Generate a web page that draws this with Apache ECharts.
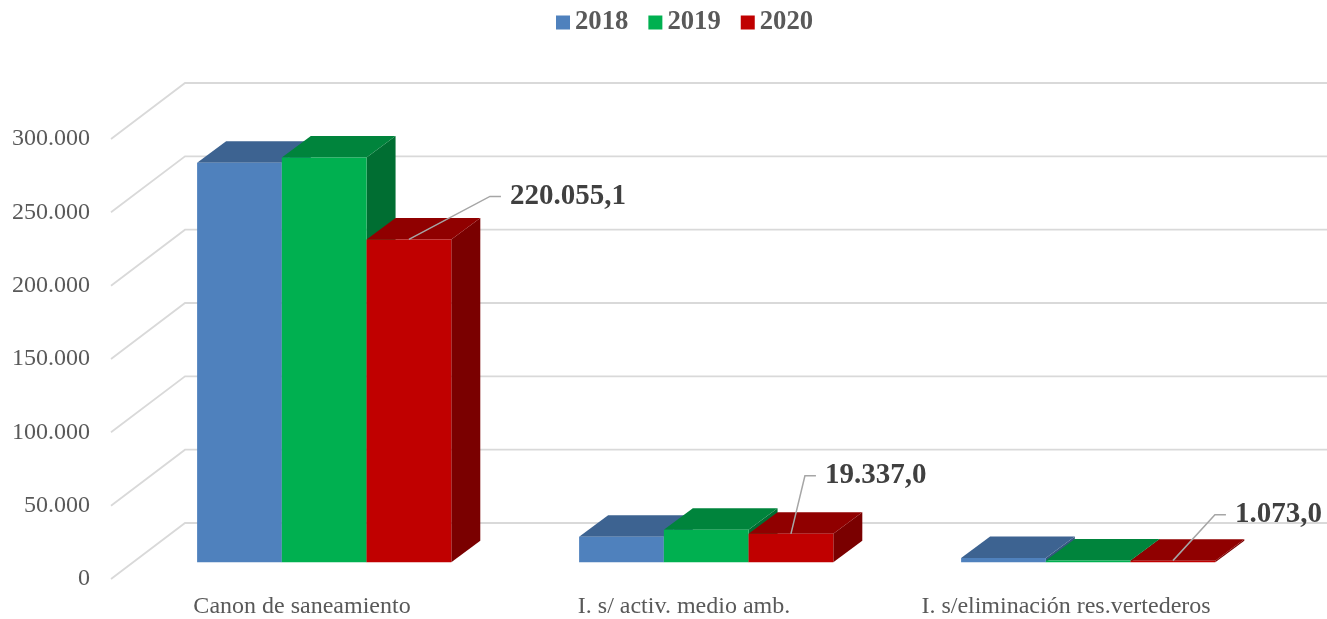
<!DOCTYPE html>
<html>
<head>
<meta charset="utf-8">
<script src="https://cdn.jsdelivr.net/npm/echarts@6/dist/echarts.min.js"></script>
<style>
  html, body { margin: 0; padding: 0; background: #fff; }
  #chart { width: 1327px; height: 619px; }
</style>
</head>
<body>
<div id="chart"></div>
<script>
var categories = ['Canon de saneamiento', 'I. s/ activ. medio amb.', 'I. s/eliminación res.vertederos'];
var years = ['2018', '2019', '2020'];
var values2018 = [272400, 17400, 2900];
var values2019 = [275900, 22100, 1150];
var values2020 = [220055.1, 19337.0, 1073.0];
var yTicks = [0, 50000, 100000, 150000, 200000, 250000, 300000];

// colours: front, top, side
var palette = [
  ['#4F81BD', '#3D6391', '#365780'],
  ['#00B050', '#00843C', '#006E32'],
  ['#C00000', '#900000', '#7A0000']
];
// leader offsets for the 2020 labels (px)
var labelOffsets = [[81, -43], [14, -58], [42, -46]];

var FONT = '"Times New Roman", "Liberation Serif", serif';
var DEPTH = [74, -56];      // full floor depth
var BAR_POS = 0.3;          // bar front face as share of depth
var BAR_DEPTH = [29, -21.5];
var BAR_RATIO = 0.2218;

function fmt(v, dec) {
  var s = v.toFixed(dec);
  var parts = s.split('.');
  var ints = parts[0].replace(/\B(?=(\d{3})+(?!\d))/g, '.');
  return parts.length > 1 ? ints + ',' + parts[1] : ints;
}

function barRenderer(si) {
  return function (params, api) {
    var cat = api.value(0);
    var val = api.value(1);
    var top = api.coord([cat, val]);
    var base = api.coord([cat, 0]);
    var band = api.size([1, 0])[0];
    var w = band * BAR_RATIO;
    var ox = DEPTH[0] * BAR_POS, oy = DEPTH[1] * BAR_POS;
    var x0 = top[0] - w * 1.5 + si * w + ox;
    var x1 = x0 + w;
    var yt = top[1] + oy;
    var yb = base[1] + oy;
    var dx = BAR_DEPTH[0], dy = BAR_DEPTH[1];
    var col = palette[si];
    var children = [
      { type: 'polygon', shape: { points: [[x1, yt], [x1, yb], [x1 + dx, yb + dy], [x1 + dx, yt + dy]] },
        style: { fill: col[2] } },
      { type: 'polygon', shape: { points: [[x0, yt], [x1, yt], [x1 + dx, yt + dy], [x0 + dx, yt + dy]] },
        style: { fill: col[1] } },
      { type: 'rect', shape: { x: x0, y: yt, width: w, height: Math.max(yb - yt, 0.8) },
        style: { fill: col[0] } }
    ];
    if (si === 2) {
      var off = labelOffsets[params.dataIndex];
      var lx = x0 + w / 2, ly = yt;
      var ex = lx + off[0], ey = ly + off[1];
      children.push({ type: 'polyline',
        shape: { points: [[lx, ly], [ex, ey], [ex + 11, ey]] },
        style: { stroke: '#A6A6A6', lineWidth: 1.5, fill: null } });
      children.push({ type: 'text',
        style: { x: ex + 20, y: ey, text: fmt(val, 1), fill: '#404040',
          font: 'bold 29px ' + FONT, textAlign: 'left', textVerticalAlign: 'middle' } });
    }
    return { type: 'group', children: children };
  };
}

function gridRenderer(params, api) {
  var y = api.coord([0, api.value(1)])[1];
  var x = params.coordSys.x;
  return { type: 'polyline',
    shape: { points: [[x, y], [x + DEPTH[0], y + DEPTH[1]], [x + DEPTH[0] + 1400, y + DEPTH[1]]] },
    style: { stroke: '#D9D9D9', lineWidth: 1.8, fill: null } };
}

var myChart = echarts.init(document.getElementById('chart'), null, { renderer: 'canvas' });
var allValues = [values2018, values2019, values2020];

var series = [{
  name: 'grid',
  type: 'custom',
  renderItem: gridRenderer,
  data: yTicks.map(function (t) { return [0, t]; }),
  silent: true,
  z: 1
}];
for (var i = 0; i < years.length; i++) {
  series.push({
    name: years[i],
    type: 'custom',
    renderItem: barRenderer(i),
    itemStyle: { color: palette[i][0] },
    data: allValues[i].map(function (v, k) { return [k, v]; }),
    z: 2 + i
  });
}

var option = {
  animation: false,
  legend: {
    data: years,
    top: 4,
    left: 551,
    icon: 'rect',
    itemWidth: 14,
    itemHeight: 14,
    itemGap: 20,
    textStyle: { fontFamily: FONT, fontSize: 26.7, fontWeight: 'bold', color: '#595959' }
  },
  grid: { left: 111, top: 139, width: 1146, height: 441, containLabel: false },
  xAxis: {
    type: 'category',
    data: categories,
    axisLine: { show: false },
    axisTick: { show: false },
    axisLabel: { fontFamily: FONT, fontSize: 24, color: '#595959', margin: 16, interval: 0 }
  },
  yAxis: {
    type: 'value',
    min: 0,
    max: 300000,
    interval: 50000,
    splitLine: { show: false },
    axisLine: { show: false },
    axisTick: { show: false },
    axisLabel: { fontFamily: FONT, fontSize: 24, color: '#595959', margin: 21,
      formatter: function (v) { return fmt(v, 0); } }
  },
  series: series
};

myChart.setOption(option);
</script>
</body>
</html>
